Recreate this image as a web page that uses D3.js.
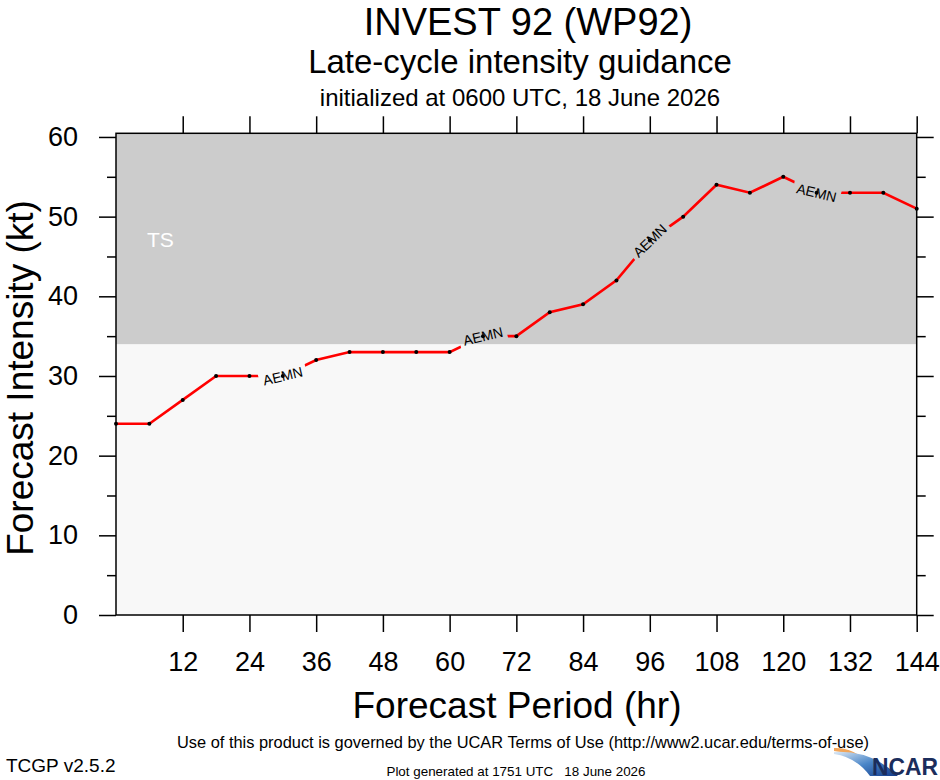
<!DOCTYPE html>
<html>
<head>
<meta charset="utf-8">
<script src="https://cdn.jsdelivr.net/npm/d3@7"></script>
<style>
  body { margin: 0; background: #fff; }
  text { font-family: "Liberation Sans", Arial, Helvetica, sans-serif; }
</style>
</head>
<body>
<svg id="chart" width="940" height="780"></svg>
<script>
// forecast hours and AEMN intensity (kt)
const hours = [0, 6, 12, 18, 24, 30, 36, 42, 48, 54, 60, 66, 72, 78, 84, 90, 96, 102, 108, 114, 120, 126, 132, 138, 144];
const intensity = [24, 24, 27, 30, 30, 30, 32, 33, 33, 33, 33, 35, 35, 38, 39, 42, 47, 50, 54, 53, 55, 53, 53, 53, 51];
const labelHours = [30, 66, 96, 126];
const modelName = "AEMN";
const xTicks = [12, 24, 36, 48, 60, 72, 84, 96, 108, 120, 132, 144];
const yTicks = [0, 10, 20, 30, 40, 50, 60];
const yMinorTicks = [5, 15, 25, 35, 45, 55];
const tsThreshold = 34;
const bandLabel = "TS";

const svg = d3.select("#chart");
const plotL = 116, plotR = 916.7, plotT = 133.3, plotB = 615;

let x = d3.scaleLinear().domain([0, 144]).range([plotL, plotR]);
let y = d3.scaleLinear().domain([0, 60.46]).range([plotB, plotT]);

// background bands
svg.append("rect")
  .attr("x", plotL).attr("y", plotT)
  .attr("width", plotR - plotL).attr("height", plotB - plotT)
  .attr("fill", "#f8f8f8");
svg.append("rect")
  .attr("x", plotL).attr("y", plotT)
  .attr("width", plotR - plotL).attr("height", y(tsThreshold) - plotT)
  .attr("fill", "#cccccc");
svg.append("text")
  .attr("x", 147).attr("y", 247)
  .attr("font-size", 21).attr("fill", "#fff")
  .text(bandLabel);

// mask that cuts gaps in the line where labels sit
let angleAt = function(h) {
  let i = hours.indexOf(h);
  let dx = x(hours[i + 1]) - x(hours[i - 1]);
  let dy = y(intensity[i + 1]) - y(intensity[i - 1]);
  return Math.atan2(dy, dx) * 180 / Math.PI;
};
let labelTransform = function(h) {
  let i = hours.indexOf(h);
  return "translate(" + x(h) + "," + y(intensity[i]) + ") rotate(" + angleAt(h) + ")";
};
let defs = svg.append("defs");
let mask = defs.append("mask").attr("id", "gaps")
  .attr("maskUnits", "userSpaceOnUse")
  .attr("x", 0).attr("y", 0).attr("width", 940).attr("height", 780);
mask.append("rect").attr("x", 0).attr("y", 0).attr("width", 940).attr("height", 780).attr("fill", "#fff");
mask.selectAll("rect.gap")
  .data(labelHours)
  .enter().append("rect")
  .attr("class", "gap")
  .attr("x", -24).attr("y", -9).attr("width", 48).attr("height", 18)
  .attr("fill", "#000")
  .attr("transform", labelTransform);

let line = d3.line()
  .x(function(d, i) { return x(hours[i]); })
  .y(function(d) { return y(d); });

svg.append("path")
  .datum(intensity)
  .attr("d", line)
  .attr("fill", "none")
  .attr("stroke", "#ff0000")
  .attr("stroke-width", 2.6)
  .attr("mask", "url(#gaps)");

svg.selectAll("circle.pt")
  .data(intensity)
  .enter().append("circle")
  .attr("class", "pt")
  .attr("cx", function(d, i) { return x(hours[i]); })
  .attr("cy", function(d) { return y(d); })
  .attr("r", 2)
  .attr("fill", "#000");

svg.selectAll("text.lbl")
  .data(labelHours)
  .enter().append("text")
  .attr("class", "lbl")
  .attr("font-size", 14)
  .attr("text-anchor", "middle")
  .attr("dy", "0.36em")
  .attr("transform", labelTransform)
  .text(modelName);

// axes: outward ticks on all four sides
let styleAxis = function(g) {
  g.select(".domain").remove();
  g.selectAll("line").attr("stroke", "#000").attr("stroke-width", 1.5);
  g.selectAll("text").attr("font-size", 27).attr("fill", "#000")
    .attr("font-family", "Liberation Sans, Arial, sans-serif");
};

svg.append("g")
  .attr("transform", "translate(" + plotL + ",0)")
  .call(d3.axisLeft(y).tickValues(yTicks).tickSize(17).tickPadding(21).tickFormat(d3.format("d")))
  .call(styleAxis);
svg.append("g")
  .attr("transform", "translate(" + plotL + ",0)")
  .call(d3.axisLeft(y).tickValues(yMinorTicks).tickSize(9).tickFormat(""))
  .call(styleAxis);
svg.append("g")
  .attr("transform", "translate(" + plotR + ",0)")
  .call(d3.axisRight(y).tickValues(yTicks).tickSize(17).tickFormat(""))
  .call(styleAxis);
svg.append("g")
  .attr("transform", "translate(" + plotR + ",0)")
  .call(d3.axisRight(y).tickValues(yMinorTicks).tickSize(9).tickFormat(""))
  .call(styleAxis);
svg.append("g")
  .attr("transform", "translate(0," + plotB + ")")
  .call(d3.axisBottom(x).tickValues(xTicks).tickSize(17).tickPadding(20).tickFormat(d3.format("d")))
  .call(styleAxis);
svg.append("g")
  .attr("transform", "translate(0," + plotT + ")")
  .call(d3.axisTop(x).tickValues(xTicks).tickSize(17).tickFormat(""))
  .call(styleAxis);

// frame
svg.append("rect")
  .attr("x", plotL).attr("y", plotT)
  .attr("width", plotR - plotL).attr("height", plotB - plotT)
  .attr("fill", "none").attr("stroke", "#000").attr("stroke-width", 1.5);

// titles
svg.append("text").attr("x", 528).attr("y", 35).attr("text-anchor", "middle")
  .attr("font-size", 38).text("INVEST 92 (WP92)");
svg.append("text").attr("x", 520).attr("y", 73).attr("text-anchor", "middle")
  .attr("font-size", 33).text("Late-cycle intensity guidance");
svg.append("text").attr("x", 520).attr("y", 106).attr("text-anchor", "middle")
  .attr("font-size", 24).text("initialized at 0600 UTC, 18 June 2026");

svg.append("text").attr("x", 517).attr("y", 718).attr("text-anchor", "middle")
  .attr("font-size", 37).text("Forecast Period (hr)");
svg.append("text")
  .attr("transform", "translate(33,378) rotate(-90)")
  .attr("text-anchor", "middle")
  .attr("font-size", 37).text("Forecast Intensity (kt)");

// footer
svg.append("text").attr("x", 523).attr("y", 748).attr("text-anchor", "middle")
  .attr("font-size", 16.4).text("Use of this product is governed by the UCAR Terms of Use (http://www2.ucar.edu/terms-of-use)");
svg.append("text").attr("x", 6).attr("y", 772)
  .attr("font-size", 19).text("TCGP v2.5.2");
svg.append("text").attr("x", 516).attr("y", 776).attr("text-anchor", "middle")
  .attr("font-size", 13.4).style("white-space", "pre")
  .text("Plot generated at 1751 UTC   18 June 2026");

// NCAR logo
let grad = defs.append("linearGradient").attr("id", "swoosh")
  .attr("x1", "0%").attr("y1", "0%").attr("x2", "100%").attr("y2", "100%");
grad.append("stop").attr("offset", "0%").attr("stop-color", "#dde9f5");
grad.append("stop").attr("offset", "50%").attr("stop-color", "#4a86c8");
grad.append("stop").attr("offset", "100%").attr("stop-color", "#123a8a");
svg.append("path")
  .attr("d", "M834,748 Q860,747 878,776 L872,776 Q856,753 834,751 Z")
  .attr("fill", "#f2a65a");
svg.append("path")
  .attr("d", "M834,754 Q856,757 870,776 L898,776 Q872,750 834,752 Z")
  .attr("fill", "url(#swoosh)");
svg.append("text").attr("x", 938).attr("y", 775).attr("text-anchor", "end")
  .attr("font-size", 24).attr("font-weight", "bold").attr("fill", "#1b2d5c")
  .attr("textLength", 66).attr("lengthAdjust", "spacingAndGlyphs")
  .text("NCAR");
</script>
</body>
</html>
